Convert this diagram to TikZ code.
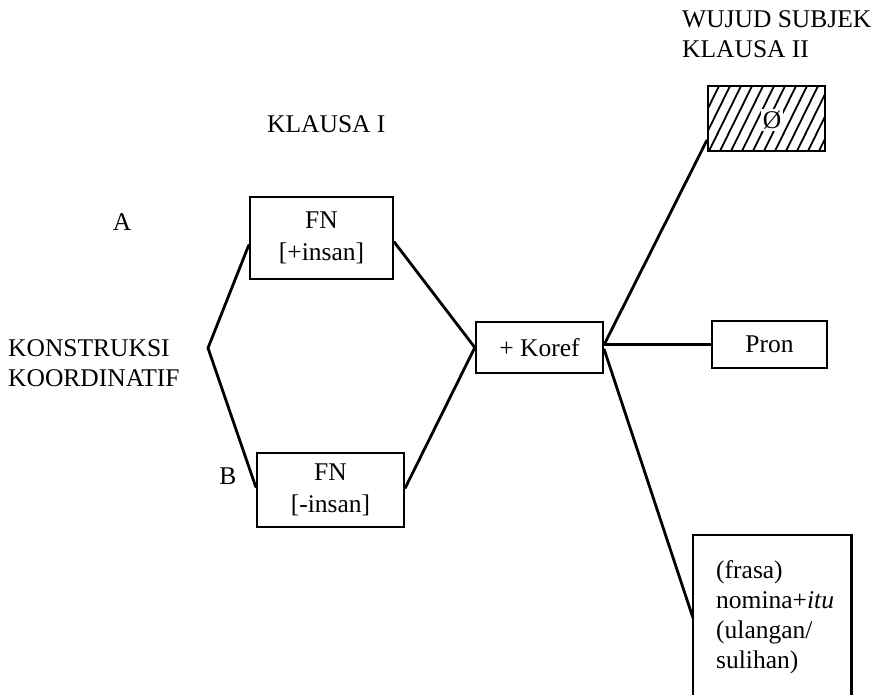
\documentclass[tikz,border=0pt]{standalone}
\usepackage{fontspec}
\setmainfont{Liberation Serif}
\begin{document}
\begin{tikzpicture}[x=1pt,y=-1pt,
  lbl/.style={font=\fontsize{25.5}{30}\selectfont, inner sep=0pt},
  box/.style={draw, line width=2.4pt, inner sep=0pt, font=\fontsize{25.5}{32}\selectfont, align=center},
  conn/.style={line width=2.8pt, line cap=round},
  hatch/.style={line width=1.8pt},
]
\useasboundingbox (0,0) rectangle (878,695);

% labels
\node[lbl, anchor=base west, align=left] (head) at (682,58) {WUJUD SUBJEK\\KLAUSA II};
\node[lbl, anchor=base west] (kl1) at (267,133) {KLAUSA I};
\node[lbl, anchor=base] (la) at (122,230) {A};
\node[lbl, anchor=base] (lb) at (228,484) {B};
\node[lbl, anchor=base west, align=left] (kons) at (8,386) {KONSTRUKSI\\KOORDINATIF};

% boxes
\node[box, minimum width=143pt, minimum height=82pt] (fnp) at (321.5,238) {FN\\{[+insan]}};
\node[box, minimum width=147pt, minimum height=74pt] (fnm) at (330.5,490) {FN\\{[-insan]}};
\node[box, minimum width=127pt, minimum height=51pt] (koref) at (539.5,347.5) {+ Koref};
\node[box, minimum width=115pt, minimum height=47pt] (pron) at (769.5,344.5) {Pron};

% hatched box
\node[draw, line width=2.4pt, minimum width=117pt, minimum height=65pt, inner sep=0pt] (zero) at (766.5,118.5) {};
\begin{scope}
  \clip (708,86) rectangle (825,151);
  \foreach \i in {0,...,14} \draw[hatch] (676+\i*11,151) -- ++(32,-65);
\end{scope}
\node[lbl, fill=white, inner sep=1.5pt] (zsym) at (772,120) {Ø};

% open box at bottom right
\node[minimum width=158pt, minimum height=165pt, inner sep=0pt, anchor=north west] (frasa) at (693,535) {};
\draw[line width=2.4pt] (frasa.south west) -- (frasa.north west) -- (frasa.north east) -- (frasa.south east);
\node[lbl, anchor=base west, align=left] (frasatxt) at (716,668) {(frasa)\\nomina+\textit{itu}\\(ulangan/\\sulihan)};

% connectors
\coordinate (v) at (208,348);
\draw[conn] ([yshift=-7pt]fnp.west) -- (v) -- ([yshift=3pt]fnm.west);
\draw[conn] ([yshift=-4pt]fnp.east) -- (koref.west);
\draw[conn] ([yshift=2pt]fnm.east) -- (koref.west);
\draw[conn] ([yshift=3pt]koref.east) -- ([yshift=-22pt]zero.west);
\draw[line width=2.4pt] ([yshift=3pt]koref.east) -- (pron.west);
\draw[conn] ([yshift=-2pt]koref.east) -- ([yshift=-83pt]frasa.north west);
\end{tikzpicture}
\end{document}
